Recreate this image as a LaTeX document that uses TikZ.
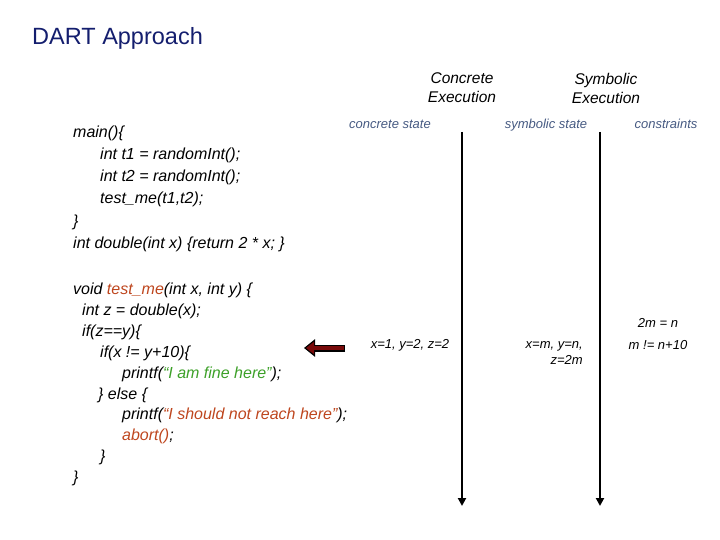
\documentclass[tikz,border=0pt]{standalone}
\usepackage{fontspec}
\setmainfont{Liberation Sans}
\usetikzlibrary{arrows.meta}
\definecolor{lab}{RGB}{70,90,130}
\definecolor{grn}{RGB}{60,160,40}
\definecolor{rd}{RGB}{190,70,30}
\definecolor{ttl}{RGB}{20,30,110}
\definecolor{arr}{RGB}{120,10,10}
\begin{document}
\begin{tikzpicture}[x=1pt,y=-1pt,
  code/.style={anchor=base west,inner sep=0pt,font=\fontsize{16}{18}\selectfont\itshape},
  hdr/.style={inner sep=0pt,font=\fontsize{15.5}{19}\selectfont\itshape,align=center},
  lbl/.style={inner sep=0pt,anchor=base,font=\fontsize{13}{15}\selectfont\itshape,text=lab},
  dat/.style={inner sep=0pt,anchor=base,font=\fontsize{13}{15}\selectfont\itshape},
  vline/.style={line width=2pt,-{Triangle[length=8pt,width=8pt]}}]
\useasboundingbox (0,0) rectangle (720,540);
\node[anchor=base west,inner sep=0pt,font=\fontsize{23.5}{26}\selectfont,text=ttl] (title) at (32,45) {DART Approach};
\node[hdr] (ce) at (462,88) {Concrete\\Execution};
\node[hdr] (se) at (606,88) {Symbolic\\Execution};
\node[lbl] (cs) at (390,129) {concrete state};
\node[lbl] (ss) at (546,129) {symbolic state};
\node[lbl] (cn) at (666,129) {constraints};
\coordinate (a1) at (462,132); \coordinate (a2) at (462,506);
\coordinate (b1) at (600,132); \coordinate (b2) at (600,506);
\draw[vline] (a1) -- (a2);
\draw[vline] (b1) -- (b2);
\node[code] (l1) at (73,138) {main()\{};
\node[code] (l2) at (100,160) {int t1 = randomInt();};
\node[code] (l3) at (100,182) {int t2 = randomInt();};
\node[code] (l4) at (100,204) {test\_me(t1,t2);};
\node[code] (l5) at (73,226) {\}};
\node[code] (l6) at (73,248) {int double(int x) \{return 2 * x; \}};
\node[code] (l7) at (73,294) {void \textcolor{rd}{test\_me}(int x, int y) \{};
\node[code] (l8) at (82,315) {int z = double(x);};
\node[code] (l9) at (82,336) {if(z==y)\{};
\node[code] (l10) at (100,357) {if(x != y+10)\{};
\node[code] (l11) at (122,378) {printf(\textcolor{grn}{``I am fine here''});};
\node[code] (l12) at (98,399) {\} else \{};
\node[code] (l13) at (122,419) {printf(\textcolor{rd}{``I should not reach here''});};
\node[code] (l14) at (122,440) {\textcolor{rd}{abort()};};
\node[code] (l15) at (100,461) {\}};
\node[code] (l16) at (73,482) {\}};
\coordinate (p1) at (345,348); \coordinate (p2) at (304,348);
\draw[line width=7pt,black,-{Triangle[length=11pt,width=17pt]}] (p1) -- (p2);
\draw[line width=4.5pt,arr,-{Triangle[length=8pt,width=12pt]}] ([xshift=-1.2pt]p1) -- ([xshift=2pt]p2);
\node[dat] (d1) at (410,348) {x=1, y=2, z=2};
\node[dat,anchor=base east] (d2) at (583,348) {x=m, y=n,};
\node[dat,anchor=base east] (d3) at (583,364) {z=2m};
\node[dat] (d4) at (658,327) {2m = n};
\node[dat] (d5) at (658,349) {m != n+10};
\end{tikzpicture}
\end{document}
